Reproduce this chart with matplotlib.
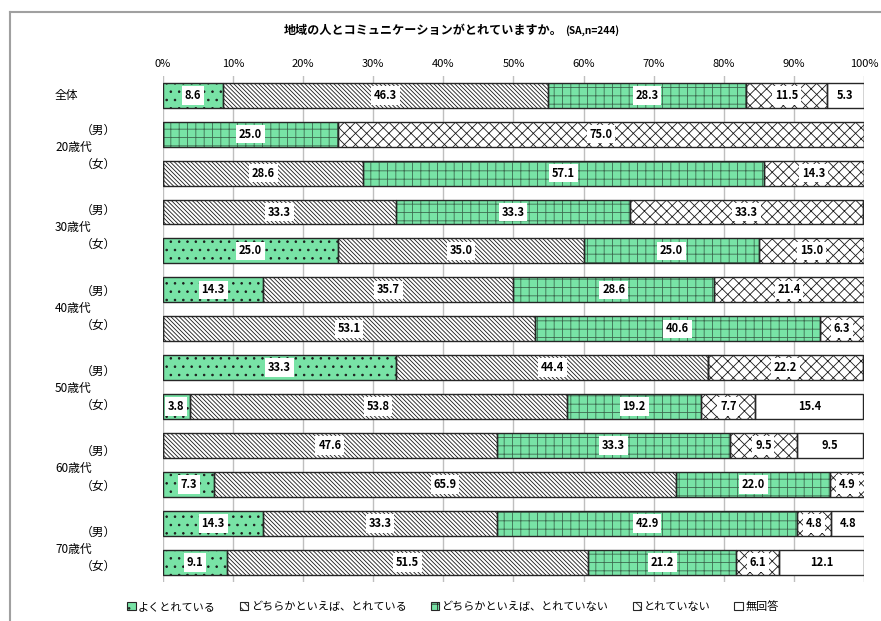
import numpy as np
import matplotlib
matplotlib.use('Agg')
import matplotlib.pyplot as plt
from matplotlib.lines import Line2D
from matplotlib.patches import Patch
from matplotlib.transforms import blended_transform_factory

plt.rcParams['font.family'] = ['Noto Sans CJK JP', 'DejaVu Sans']
plt.rcParams['hatch.linewidth'] = 0.6

# data (%), one row per bar, top to bottom
rows = ['全体', '20男', '20女', '30男', '30女', '40男', '40女',
        '50男', '50女', '60男', '60女', '70男', '70女']
series = ['よくとれている', 'どちらかといえば、とれている',
          'どちらかといえば、とれていない', 'とれていない', '無回答']
good = [8.6, 0, 0, 0, 25.0, 14.3, 0, 33.3, 3.8, 0, 7.3, 14.3, 9.1]
rather_good = [46.3, 0, 28.6, 33.3, 35.0, 35.7, 53.1, 44.4, 53.8, 47.6, 65.9, 33.3, 51.5]
rather_bad = [28.3, 25.0, 57.1, 33.3, 25.0, 28.6, 40.6, 0, 19.2, 33.3, 22.0, 42.9, 21.2]
bad = [11.5, 75.0, 14.3, 33.3, 15.0, 21.4, 6.3, 22.2, 7.7, 9.5, 4.9, 4.8, 6.1]
no_answer = [5.3, 0, 0, 0, 0, 0, 0, 0, 15.4, 9.5, 0, 4.8, 12.1]
ages = ['20歳代', '30歳代', '40歳代', '50歳代', '60歳代', '70歳代']
ticks = [0, 10, 20, 30, 40, 50, 60, 70, 80, 90, 100]

values = [good, rather_good, rather_bad, bad, no_answer]
green = '#78E3A6'
fills = [green, 'white', green, 'white', 'white']
hatches = ['..', '\\' * 8, '++', 'xxx', '']
hatch_cols = ['#1a1a1a', '#1a1a1a', '#3d6b50', '#1a1a1a', '#1a1a1a']
outline = '#262626'

fig = plt.figure(figsize=(8.81, 6.21), dpi=100)
ax = fig.add_axes([0.185, 0.063, 0.7957, 0.815])

y = np.arange(len(rows))
left = np.zeros(len(rows))
for vals, fc, h, hc in zip(values, fills, hatches, hatch_cols):
    vals = np.array(vals)
    # fill + hatch (hatch takes the edge colour), then a dark outline on top
    ax.barh(y, vals, left=left, height=0.64, color=fc, hatch=h,
            edgecolor=hc, linewidth=0, zorder=2)
    ax.barh(y, vals, left=left, height=0.64, fill=False,
            edgecolor=outline, linewidth=1.0, zorder=3)
    for yi, (l, v) in enumerate(zip(left, vals)):
        if v > 0:
            ax.text(l + v / 2, yi, f'{v:.1f}', ha='center', va='center',
                    fontsize=8, fontweight='bold', zorder=4,
                    bbox=dict(boxstyle='square,pad=0.25', fc='white', ec='none'))
    left += vals

ax.set_xlim(0, 100)
ax.set_ylim(len(rows) - 0.5, -0.5)
ax.set_xticks(ticks)
ax.set_xticklabels([f'{t}%' for t in ticks], fontsize=8)
ax.xaxis.tick_top()
ax.tick_params(axis='x', length=0, pad=5)
ax.set_yticks([])
ax.grid(axis='x', color='#BFBFBF', linewidth=1.0, zorder=0)
for s in ax.spines.values():
    s.set_visible(False)

# category labels
tr = blended_transform_factory(ax.transAxes, ax.transData)
ax.text(-0.154, 0, '全体', transform=tr, ha='left', va='center', fontsize=8.5)
for k, age in enumerate(ages):
    yc = (148 + 80.6 * k - 96) / 39
    ax.text(-0.154, yc, age, transform=tr, ha='left', va='center', fontsize=8.5)
    ax.text(-0.118, yc - 0.44, '（男）', transform=tr, ha='left', va='center', fontsize=8.5)
    ax.text(-0.118, yc + 0.44, '（女）', transform=tr, ha='left', va='center', fontsize=8.5)

# title
fig.text(0.639, 0.951, '地域の人とコミュニケーションがとれていますか。',
         ha='right', va='center', fontsize=8.7, fontweight='bold')
fig.text(0.641, 0.951, '(SA,n=244)', ha='left', va='center',
         fontsize=7.3, fontweight='bold')

handles = [Patch(facecolor=fc, hatch=h, edgecolor=outline, linewidth=0.8, label=name)
           for fc, h, name in zip(fills, ['..', '\\' * 4, '++', 'xx', ''], series)]
fig.legend(handles=handles, loc='center', bbox_to_anchor=(0.514, 0.023), ncol=5,
           frameon=False, fontsize=8, handlelength=0.75, handleheight=0.75,
           handletextpad=0.2, columnspacing=2.2)

# outer frame (only top and left edges visible)
fig.add_artist(Line2D([0.0114, 0.0114], [0, 0.9807], transform=fig.transFigure,
                      color='#A0A0A0', linewidth=1.5))
fig.add_artist(Line2D([0.0114, 1], [0.9807, 0.9807], transform=fig.transFigure,
                      color='#A0A0A0', linewidth=1.5))

fig.savefig('out.png', dpi=100)
